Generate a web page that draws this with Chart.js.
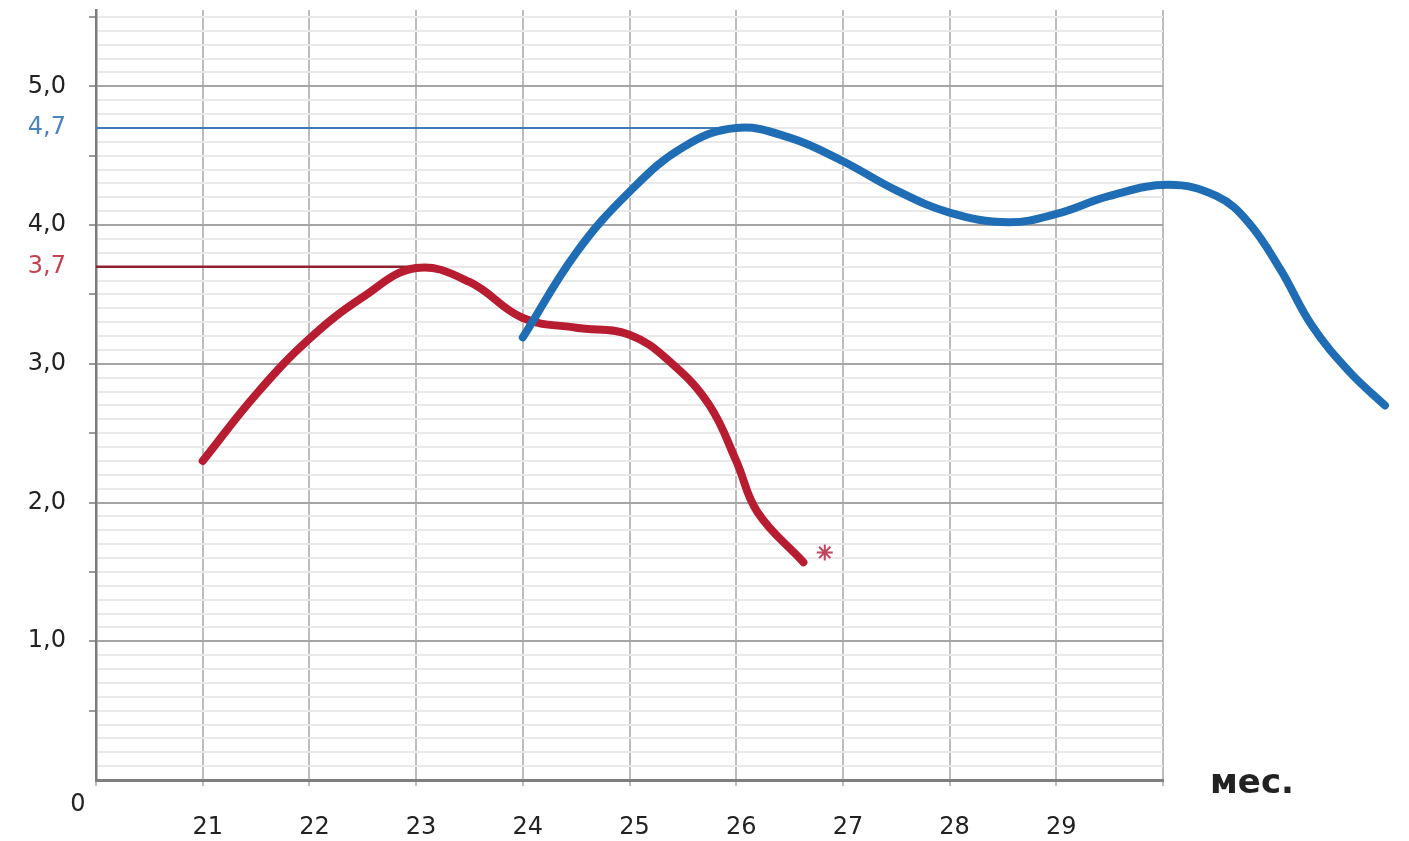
<!DOCTYPE html>
<html lang="ru">
<head>
<meta charset="UTF-8">
<title>Кривые по месяцам</title>
<script src="https://cdn.jsdelivr.net/npm/chart.js"></script>
<style>
html, body { margin: 0; padding: 0; background: #ffffff; }
#wrap { width: 1409px; height: 841px; position: relative; }
</style>
</head>
<body>
<div id="wrap"><canvas id="chart"></canvas></div>
<script>
// values (x = month, y = value)
const redX = [21.0, 21.5, 22.0, 22.5, 23.0, 23.5, 24.0, 24.5, 25.0, 25.4, 25.75, 26.0, 26.2, 26.63];
const redY = [2.30, 2.78, 3.18, 3.48, 3.69, 3.59, 3.33, 3.26, 3.21, 3.00, 2.70, 2.30, 1.93, 1.57];

const blueX = [24.0, 24.5, 25.0, 25.5, 26.0, 26.5, 27.0, 27.5, 28.0, 28.55, 29.0, 29.5, 30.05, 30.5, 30.8, 31.1, 31.4, 31.75, 32.08];
const blueY = [3.19, 3.80, 4.24, 4.56, 4.70, 4.63, 4.46, 4.25, 4.09, 4.02, 4.08, 4.21, 4.29, 4.21, 4.02, 3.68, 3.27, 2.94, 2.70];

// thin lines marking the peaks
const blueRefX = [20, 26.0];
const blueRefY = 4.7;
const redRefX = [20, 23.0];
const redRefY = 3.7;

// asterisks at the curve ends: [red, blue]
const starX = [26.83, 32.17];
const starY = [1.64, 2.83];

// axis labels
const xLabelValues = [21, 22, 23, 24, 25, 26, 27, 28, 29];
const yLabelValues = [1, 2, 3, 4, 5];
const yMarkValues = [3.7, 4.7];
const originLabel = '0';
const unitLabel = 'мес.';

const RED = '#b71c31';
const BLUE = '#1f6db4';

const near = (a, b) => Math.abs(a - b) < 1e-6;
const fmt = v => v.toFixed(1).replace('.', ',');

const extraText = {
  id: 'extraText',
  afterDraw(chart) {
    const { ctx } = chart;
    const x = chart.scales.x, y = chart.scales.y;
    ctx.save();
    ctx.fillStyle = '#222';
    ctx.textAlign = 'center';
    ctx.textBaseline = 'middle';
    ctx.font = '24px "DejaVu Sans"';
    ctx.fillText(originLabel, x.getPixelForValue(20) - 18, y.getPixelForValue(0) + 25);
    ctx.font = 'bold 34px "DejaVu Sans"';
    ctx.fillText(unitLabel, x.getPixelForValue(30) + 89, y.getPixelForValue(0) + 4);
    ctx.restore();
  }
};

const toPts = (xs, ys) => xs.map((v, i) => ({ x: v, y: Array.isArray(ys) ? ys[i] : ys }));

const noPad = scale => {
  scale.paddingTop = 0;
  scale.paddingBottom = 0;
  scale.paddingLeft = 0;
  scale.paddingRight = 0;
};

new Chart(document.getElementById('chart'), {
  type: 'line',
  data: {
    datasets: [
      {
        data: toPts(blueX, blueY),
        borderColor: BLUE,
        borderWidth: 8,
        borderCapStyle: 'round',
        tension: 0.4,
        pointRadius: 0,
        clip: false
      },
      {
        data: toPts(redX, redY),
        borderColor: RED,
        borderWidth: 8,
        borderCapStyle: 'round',
        tension: 0.4,
        pointRadius: 0,
        clip: false
      },
      {
        data: toPts(blueRefX, blueRefY),
        borderColor: '#3d7cb8',
        borderWidth: 2,
        pointRadius: 0
      },
      {
        data: toPts(redRefX, redRefY),
        borderColor: '#8e2430',
        borderWidth: 2.5,
        pointRadius: 0
      },
      {
        type: 'scatter',
        data: toPts(starX, starY),
        pointStyle: 'star',
        pointRadius: 8,
        pointBorderWidth: 2,
        pointBorderColor: ['#c0455a', '#4f86c0'],
        pointBackgroundColor: ['#c0455a', '#4f86c0'],
        clip: false
      }
    ]
  },
  options: {
    responsive: true,
    maintainAspectRatio: false,
    animation: false,
    layout: { padding: { top: 6, right: 246, left: 0, bottom: 0 } },
    plugins: { legend: { display: false }, tooltip: { enabled: false } },
    scales: {
      x: {
        type: 'linear',
        min: 20,
        afterDataLimits(scale) { scale.max = 30; },
        afterBuildTicks(scale) {
          const t = [];
          for (let v = 20; v <= 30; v++) t.push({ value: v });
          scale.ticks = t;
        },
        afterFit(scale) { scale.height = 61; noPad(scale); },
        border: { color: '#7f7f7f', width: 3 },
        grid: {
          color: '#bdbdbd',
          lineWidth: 2,
          tickLength: 6,
          tickColor: '#bdbdbd'
        },
        ticks: {
          autoSkip: false,
          maxRotation: 0,
          padding: 27,
          labelOffset: 5,
          color: '#222',
          font: { family: 'DejaVu Sans', size: 24 },
          callback: v => xLabelValues.some(x => near(x, v)) ? String(v) : ''
        }
      },
      y: {
        type: 'linear',
        min: 0,
        max: 5.55,
        afterBuildTicks(scale) {
          const t = [];
          for (let i = 0; i <= 55; i++) t.push({ value: i / 10 });
          scale.ticks = t;
        },
        afterFit(scale) { scale.width = 96; noPad(scale); },
        border: { color: '#7a7a7a', width: 2.5 },
        grid: {
          color: ctx => {
            const v = ctx.tick ? ctx.tick.value : 0;
            return near(v, Math.round(v)) ? '#a5a5a5' : '#e9e9e9';
          },
          lineWidth: 2,
          tickLength: 7,
          tickColor: ctx => {
            const v = ctx.tick ? ctx.tick.value : 0;
            return near(v * 2, Math.round(v * 2)) && v > 0 ? '#9a9a9a' : 'rgba(0,0,0,0)';
          }
        },
        ticks: {
          autoSkip: false,
          padding: 23,
          font: { family: 'DejaVu Sans', size: 24 },
          color: ctx => {
            const v = ctx.tick ? ctx.tick.value : 0;
            if (near(v, yMarkValues[1])) return '#4a84bd';
            if (near(v, yMarkValues[0])) return '#c8404f';
            return '#222';
          },
          callback: v => {
            if (yLabelValues.some(y => near(y, v))) return fmt(v);
            if (yMarkValues.some(y => near(y, v))) return fmt(v);
            return '';
          }
        }
      }
    }
  },
  plugins: [extraText]
});
</script>
</body>
</html>
